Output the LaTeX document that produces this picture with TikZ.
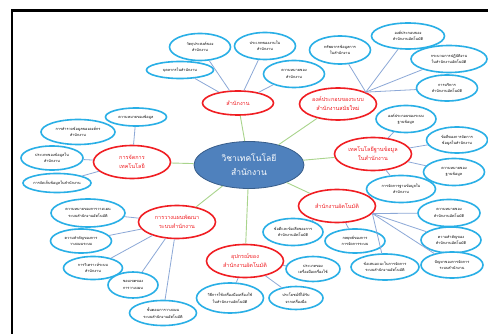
\documentclass[tikz,border=0pt]{standalone}
\usepackage{fontspec}
\newfontfamily\thai[Script=Thai]{Loma}
\usetikzlibrary{shapes.geometric}
\definecolor{hubfill}{RGB}{79,129,189}
\definecolor{hubline}{RGB}{56,93,138}
\definecolor{topicred}{RGB}{240,30,35}
\definecolor{leafblue}{RGB}{41,175,230}
\definecolor{spoke}{RGB}{169,212,140}
\definecolor{twig}{RGB}{140,168,215}

\begin{document}
\begin{tikzpicture}[x=1pt, y=-1pt,
    hub/.style={ellipse, draw=hubline, line width=0.8pt, fill=hubfill, text=white,
        minimum width=110pt, minimum height=47pt, inner sep=0pt, align=center,
        font=\thai\fontsize{8.5}{14}\selectfont},
    topic/.style={ellipse, draw=topicred, line width=1.6pt, fill=white, text=topicred,
        minimum width=77pt, minimum height=33pt, inner sep=0pt, align=center,
        font=\thai\fontsize{5.5}{9}\selectfont},
    leaf/.style={ellipse, draw=leafblue, line width=1.6pt, fill=white,
        minimum width=61pt, minimum height=27pt, inner sep=0pt, align=center,
        font=\thai\fontsize{3.8}{6.2}\selectfont},
    spokeline/.style={spoke, line width=0.9pt},
    twigline/.style={twig, line width=0.8pt}]
		%%%%% START %%%%%
		\useasboundingbox (0,0) rectangle (488,334);
		\fill[white] (0,0) rectangle (488,334);
		
		% frame
		\draw[line width=2.4pt] (12,334) -- (12,10.5) -- (488,10.5);
		
		% middle
		\node[hub] (c) at (249,165) {วิชาเทคโนโลยี\\สำนักงาน};
		
		% main topics
		\node[topic, minimum width=71pt, minimum height=24pt] (t1) at (238,103) {สำนักงาน};
		\node[topic, minimum height=32pt] (t2) at (338,104) {องค์ประกอบของระบบ\\สำนักงานสมัยใหม่};
		\node[topic] (t3) at (373,154) {เทคโนโลยีฐานข้อมูล\\ในสำนักงาน};
		\node[topic] (t4) at (337,206) {สำนักงานอัตโนมัติ};
		\node[topic] (t5) at (245,261) {อุปกรณ์ของ\\สำนักงานอัตโนมัติ};
		\node[topic] (t6) at (177,222) {การวางแผนพัฒนา\\ระบบสำนักงาน};
		\node[topic] (t7) at (132,162) {การจัดการ\\เทคโนโลยี};
		
		% around t1
		\node[leaf] (a1) at (200,47) {วัตถุประสงค์ของ\\สำนักงาน};
		\node[leaf] (a2) at (265,46) {ประเภทของงานใน\\สำนักงาน};
		\node[leaf, minimum width=67pt, minimum height=17pt] (a3) at (180,70) {บุคลากรในสำนักงาน};
		\node[leaf] (a4) at (294,74) {ความหมายของ\\สำนักงาน};
		
		% around t2
		\node[leaf, minimum height=28pt] (b1) at (340,50) {ทรัพยากรข้อมูลการ\\ในสำนักงาน};
		\node[leaf, minimum width=73pt, minimum height=26pt] (b2) at (408,36) {องค์ประกอบของ\\สำนักงานอัตโนมัติ};
		\node[leaf, minimum width=76pt] (b3) at (449,59) {กระบวนการปฏิบัติงาน\\ในสำนักงานอัตโนมัติ};
		\node[leaf, minimum height=26pt] (b4) at (447,88) {การบริหาร\\สำนักงานอัตโนมัติ};
		
		% around t3
		\node[leaf, minimum width=60pt] (d1) at (406,119) {องค์ประกอบของระบบ\\ฐานข้อมูล};
		\node[leaf, minimum height=26pt] (d2) at (457,140) {ข้อดีของการจัดการ\\ข้อมูลในสำนักงาน};
		\node[leaf] (d3) at (454,172) {ความหมายของ\\ฐานข้อมูล};
		\node[leaf, minimum width=69pt] (d4) at (401,189) {การจัดการฐานข้อมูลใน\\สำนักงาน};
		
		% around t4
		\node[leaf, minimum width=62pt] (e1) at (449,213) {ความหมายของ\\สำนักงานอัตโนมัติ};
		\node[leaf, minimum width=60pt, minimum height=26pt] (e2) at (451,240) {ความสำคัญของ\\สำนักงานอัตโนมัติ};
		\node[leaf, minimum width=62pt, minimum height=26pt] (e3) at (452,265) {ปัญหาของการจัดการ\\ระบบสำนักงาน};
		\node[leaf, minimum width=68pt, minimum height=26pt] (e4) at (385,267) {ข้อเสนอแนะในการจัดการ\\ระบบสำนักงานอัตโนมัติ};
		\node[leaf, minimum width=60pt, minimum height=24pt] (e5) at (355,241) {กลยุทธ์ของการ\\การจัดการระบบ};
		\node[leaf, minimum width=60pt] (e6) at (293,232) {ข้อดีและข้อเสียของการ\\สำนักงานอัตโนมัติ};
		
		% around t5
		\node[leaf, minimum width=54pt, minimum height=25pt] (f1) at (313,269) {ประเภทของ\\เครื่องมือเครื่องใช้};
		\node[leaf, minimum width=54pt, minimum height=23pt] (f2) at (296,298) {ประโยชน์ที่ได้รับ\\จากเครื่องมือ};
		\node[leaf, minimum width=67pt, minimum height=30pt] (f3) at (230,298) {วิธีการใช้เครื่องมือเครื่องใช้\\ในสำนักงานอัตโนมัติ};
		
		% around t6
		\node[leaf, minimum width=74pt, minimum height=28pt] (g1) at (88,213) {ความหมายของการวางแผน\\ระบบสำนักงานอัตโนมัติ};
		\node[leaf, minimum height=24pt] (g2) at (81,241) {ความสำคัญของการ\\วางแผนระบบ};
		\node[leaf, minimum width=59pt, minimum height=23pt] (g3) at (93,268) {การวิเคราะห์ระบบ\\สำนักงาน};
		\node[leaf, minimum width=50pt, minimum height=26pt] (g4) at (133,285) {ขอบเขตของ\\การวางแผน};
		\node[leaf, minimum width=67pt, minimum height=25pt] (g5) at (163,313) {ขั้นตอนการวางแผน\\ระบบสำนักงานอัตโนมัติ};
		
		% around t7
		\node[leaf, minimum height=18pt] (h1) at (136,117) {ความหมายของข้อมูล};
		\node[leaf, minimum width=74pt, minimum height=25pt] (h2) at (78,132) {การสำรวจข้อมูลขององค์กร\\สำนักงาน};
		\node[leaf, minimum width=62pt, minimum height=24pt] (h3) at (52,158) {ประเภทของข้อมูลใน\\สำนักงาน};
		\node[leaf, minimum width=68pt, minimum height=19pt] (h4) at (57,183) {การจัดเก็บข้อมูลในสำนักงาน};
		
		% spokes from the middle
		\draw[spokeline] (c) -- (t1);
		\draw[spokeline] (c) -- (t2);
		\draw[spokeline] (c) -- (t3);
		\draw[spokeline] (c) -- (t4);
		\draw[spokeline] (c) -- (t5);
		\draw[spokeline] (c) -- (t6);
		\draw[spokeline] (c) -- (t7);
		
		% twigs
		\draw[twigline] (t1) -- (a1);
		\draw[twigline] (t1) -- (a2);
		\draw[twigline] (t1) -- (a3);
		\draw[twigline] (t1) -- (a4);
		
		\draw[twigline] (t2.north east) -- (b1);
		\draw[twigline] (t2.north east) -- (b2);
		\draw[twigline] (t2.north east) -- (b3);
		\draw[twigline] (t2.north east) -- (b4);
		
		\draw[twigline] (t3) -- (d1);
		\draw[twigline] (t3) -- (d2);
		\draw[twigline] (t3) -- (d3);
		\draw[twigline] (t3) -- (d4);
		
		\draw[twigline] (t4.-12) -- (e1);
		\draw[twigline] (t4.-12) -- (e2);
		\draw[twigline] (t4.-12) -- (e3);
		\draw[twigline] (t4.-12) -- (e4);
		\draw[twigline] (t4) -- (e5);
		\draw[twigline] (t4) -- (e6);
		
		\draw[twigline] (t5) -- (f1);
		\draw[twigline] (t5) -- (f2);
		\draw[twigline] (t5) -- (f3);
		
		\draw[twigline] (t6) -- (g1);
		\draw[twigline] (t6) -- (g2);
		\draw[twigline] (t6) -- (g3);
		\draw[twigline] (t6) -- (g4);
		\draw[twigline] (t6) -- (g5);
		
		\draw[twigline] (t7) -- (h1);
		\draw[twigline] (t7) -- (h3);
		\draw[twigline] (t7) -- (h4);
		%%%%% END %%%%%
\end{tikzpicture}
\end{document}
